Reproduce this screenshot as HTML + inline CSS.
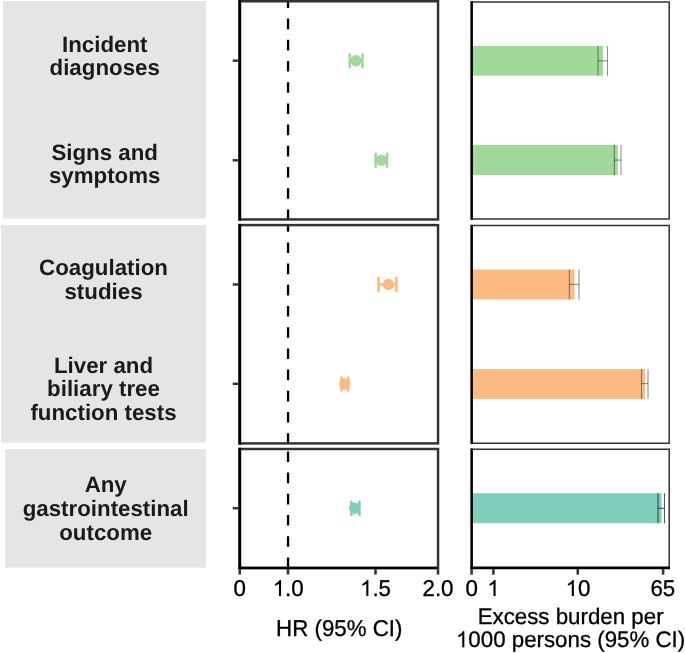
<!DOCTYPE html><html><head><meta charset="utf-8"><style>html,body{margin:0;padding:0;background:#fff;overflow:hidden;}svg{display:block;}text{font-family:"Liberation Sans",sans-serif;text-rendering:geometricPrecision;}</style></head><body>
<svg width="685" height="653" viewBox="0 0 685 653" style="will-change:transform">
<rect width="685" height="653" fill="#fff"/>
<rect x="3" y="1.1" width="203" height="217.4" fill="#E5E5E5"/>
<rect x="1" y="225" width="205" height="217.5" fill="#E5E5E5"/>
<rect x="5.2" y="449.2" width="200.8" height="118.4" fill="#E5E5E5"/>
<text transform="translate(104.7 51.65) scale(1 1.0)" font-size="22.3" font-weight="bold" text-anchor="middle" fill="#1A1A1A">Incident</text>
<text transform="translate(104.7 75.35) scale(1 1.0)" font-size="22.3" font-weight="bold" text-anchor="middle" fill="#1A1A1A">diagnoses</text>
<text transform="translate(104.7 159.65) scale(1 1.0)" font-size="22.3" font-weight="bold" text-anchor="middle" fill="#1A1A1A">Signs and</text>
<text transform="translate(104.7 183.35) scale(1 1.0)" font-size="22.3" font-weight="bold" text-anchor="middle" fill="#1A1A1A">symptoms</text>
<text transform="translate(103.5 275.45) scale(1 1.0)" font-size="22.3" font-weight="bold" text-anchor="middle" fill="#1A1A1A">Coagulation</text>
<text transform="translate(103.5 298.95) scale(1 1.0)" font-size="22.3" font-weight="bold" text-anchor="middle" fill="#1A1A1A">studies</text>
<text transform="translate(103.5 372.55) scale(1 1.0)" font-size="22.3" font-weight="bold" text-anchor="middle" fill="#1A1A1A">Liver and</text>
<text transform="translate(103.5 396.45) scale(1 1.0)" font-size="22.3" font-weight="bold" text-anchor="middle" fill="#1A1A1A">biliary tree</text>
<text transform="translate(103.5 420.35) scale(1 1.0)" font-size="22.3" font-weight="bold" text-anchor="middle" fill="#1A1A1A">function tests</text>
<text transform="translate(105.7 492.25) scale(1 1.0)" font-size="22.3" font-weight="bold" text-anchor="middle" fill="#1A1A1A">Any</text>
<text transform="translate(105.7 516.45) scale(1 1.0)" font-size="22.3" font-weight="bold" text-anchor="middle" fill="#1A1A1A">gastrointestinal</text>
<text transform="translate(105.7 540.05) scale(1 1.0)" font-size="22.3" font-weight="bold" text-anchor="middle" fill="#1A1A1A">outcome</text>
<line x1="288.05" y1="220" x2="288.05" y2="0" stroke="#000" stroke-width="2.3" stroke-dasharray="10.6 10.6"/>
<line x1="288.05" y1="443.8" x2="288.05" y2="225" stroke="#000" stroke-width="2.3" stroke-dasharray="10.6 10.6"/>
<line x1="288.05" y1="568" x2="288.05" y2="449" stroke="#000" stroke-width="2.3" stroke-dasharray="10.6 10.6"/>
<rect x="239.7" y="1.25" width="198.35000000000002" height="218.2" fill="none" stroke="#333" stroke-width="2.5"/>
<rect x="239.7" y="225.1" width="198.35000000000002" height="218.29999999999998" fill="none" stroke="#333" stroke-width="2.5"/>
<rect x="239.7" y="449.0" width="198.35000000000002" height="118.95000000000005" fill="none" stroke="#333" stroke-width="2.5"/>
<line x1="239.79999999999998" y1="0.0" x2="239.79999999999998" y2="220.7" stroke="#000" stroke-width="2.8"/>
<line x1="239.79999999999998" y1="223.85" x2="239.79999999999998" y2="444.65" stroke="#000" stroke-width="2.8"/>
<line x1="239.79999999999998" y1="447.75" x2="239.79999999999998" y2="569.2" stroke="#000" stroke-width="2.8"/>
<line x1="238.39999999999998" y1="567.95" x2="437.05" y2="567.95" stroke="#000" stroke-width="2.4"/>
<line x1="232.7" y1="60.7" x2="238.5" y2="60.7" stroke="#333" stroke-width="2.45"/>
<line x1="232.7" y1="160.3" x2="238.5" y2="160.3" stroke="#333" stroke-width="2.45"/>
<line x1="232.7" y1="284.5" x2="238.5" y2="284.5" stroke="#333" stroke-width="2.45"/>
<line x1="232.7" y1="383.8" x2="238.5" y2="383.8" stroke="#333" stroke-width="2.45"/>
<line x1="232.7" y1="508.2" x2="238.5" y2="508.2" stroke="#333" stroke-width="2.45"/>
<line x1="239.75" y1="569.1" x2="239.75" y2="574.6" stroke="#333" stroke-width="2.55"/>
<line x1="288.0" y1="569.1" x2="288.0" y2="574.6" stroke="#333" stroke-width="2.55"/>
<line x1="375.5" y1="569.1" x2="375.5" y2="574.6" stroke="#333" stroke-width="2.55"/>
<line x1="438.0" y1="569.1" x2="438.0" y2="574.6" stroke="#333" stroke-width="2.55"/>
<line x1="349.8" y1="60.8" x2="362.5" y2="60.8" stroke="#A1D99B" stroke-width="2.6"/>
<line x1="349.8" y1="53.3" x2="349.8" y2="68.3" stroke="#A1D99B" stroke-width="2.6"/>
<line x1="362.5" y1="53.3" x2="362.5" y2="68.3" stroke="#A1D99B" stroke-width="2.6"/>
<circle cx="356.0" cy="60.8" r="5.7" fill="#A1D99B"/>
<line x1="375.6" y1="160.2" x2="387.0" y2="160.2" stroke="#A1D99B" stroke-width="2.6"/>
<line x1="375.6" y1="152.7" x2="375.6" y2="167.7" stroke="#A1D99B" stroke-width="2.6"/>
<line x1="387.0" y1="152.7" x2="387.0" y2="167.7" stroke="#A1D99B" stroke-width="2.6"/>
<circle cx="381.3" cy="160.2" r="5.7" fill="#A1D99B"/>
<line x1="378.55" y1="284.5" x2="396.45" y2="284.5" stroke="#FDBB84" stroke-width="2.6"/>
<line x1="378.55" y1="277.0" x2="378.55" y2="292.0" stroke="#FDBB84" stroke-width="2.6"/>
<line x1="396.45" y1="277.0" x2="396.45" y2="292.0" stroke="#FDBB84" stroke-width="2.6"/>
<circle cx="388.5" cy="284.5" r="5.7" fill="#FDBB84"/>
<line x1="341.55" y1="384.0" x2="348.2" y2="384.0" stroke="#FDBB84" stroke-width="2.6"/>
<line x1="341.55" y1="376.5" x2="341.55" y2="391.5" stroke="#FDBB84" stroke-width="2.6"/>
<line x1="348.2" y1="376.5" x2="348.2" y2="391.5" stroke="#FDBB84" stroke-width="2.6"/>
<circle cx="344.7" cy="384.0" r="5.7" fill="#FDBB84"/>
<line x1="351.4" y1="508.3" x2="359.35" y2="508.3" stroke="#7FCDBB" stroke-width="2.6"/>
<line x1="351.4" y1="500.8" x2="351.4" y2="515.8" stroke="#7FCDBB" stroke-width="2.6"/>
<line x1="359.35" y1="500.8" x2="359.35" y2="515.8" stroke="#7FCDBB" stroke-width="2.6"/>
<circle cx="354.7" cy="508.3" r="5.7" fill="#7FCDBB"/>
<path d="M471.55 1.9H669.2V219.0H471.55" fill="none" stroke="#333" stroke-width="1.5"/>
<path d="M471.55 225.6H669.2V443.3H471.55" fill="none" stroke="#333" stroke-width="1.5"/>
<path d="M471.55 449.2H669.2V567.9H471.55" fill="none" stroke="#333" stroke-width="1.5"/>
<rect x="471.55" y="45.9" width="131.45" height="29.800000000000004" fill="#A1D99B"/>
<rect x="471.55" y="145" width="146.24999999999994" height="30" fill="#A1D99B"/>
<rect x="471.55" y="269.6" width="102.84999999999997" height="29.899999999999977" fill="#FDBB84"/>
<rect x="471.55" y="369" width="173.45" height="30" fill="#FDBB84"/>
<rect x="471.55" y="493.2" width="189.95" height="30.000000000000057" fill="#7FCDBB"/>
<line x1="598.0" y1="60.9" x2="607.5" y2="60.9" stroke="#000" stroke-opacity="0.43" stroke-width="1.1"/>
<line x1="598.0" y1="45.9" x2="598.0" y2="75.7" stroke="#000" stroke-opacity="0.43" stroke-width="1.1"/>
<line x1="607.5" y1="45.9" x2="607.5" y2="75.7" stroke="#000" stroke-opacity="0.43" stroke-width="1.1"/>
<line x1="614.3" y1="160.1" x2="621.0" y2="160.1" stroke="#000" stroke-opacity="0.43" stroke-width="1.1"/>
<line x1="614.3" y1="145" x2="614.3" y2="175" stroke="#000" stroke-opacity="0.43" stroke-width="1.1"/>
<line x1="621.0" y1="145" x2="621.0" y2="175" stroke="#000" stroke-opacity="0.43" stroke-width="1.1"/>
<line x1="569.35" y1="284.4" x2="579.0" y2="284.4" stroke="#000" stroke-opacity="0.43" stroke-width="1.1"/>
<line x1="569.35" y1="269.6" x2="569.35" y2="299.5" stroke="#000" stroke-opacity="0.43" stroke-width="1.1"/>
<line x1="579.0" y1="269.6" x2="579.0" y2="299.5" stroke="#000" stroke-opacity="0.43" stroke-width="1.1"/>
<line x1="641.5" y1="383.6" x2="648.0" y2="383.6" stroke="#000" stroke-opacity="0.43" stroke-width="1.1"/>
<line x1="641.5" y1="369" x2="641.5" y2="399" stroke="#000" stroke-opacity="0.43" stroke-width="1.1"/>
<line x1="648.0" y1="369" x2="648.0" y2="399" stroke="#000" stroke-opacity="0.43" stroke-width="1.1"/>
<line x1="658.0" y1="508.3" x2="664.5" y2="508.3" stroke="#000" stroke-opacity="0.65" stroke-width="1.1"/>
<line x1="658.0" y1="493.2" x2="658.0" y2="523.2" stroke="#000" stroke-opacity="0.65" stroke-width="1.1"/>
<line x1="664.5" y1="493.2" x2="664.5" y2="523.2" stroke="#000" stroke-opacity="0.65" stroke-width="1.1"/>
<line x1="471.65000000000003" y1="1.0999999999999999" x2="471.65000000000003" y2="219.8" stroke="#000" stroke-width="2.55"/>
<line x1="471.65000000000003" y1="224.79999999999998" x2="471.65000000000003" y2="444.1" stroke="#000" stroke-width="2.55"/>
<line x1="471.65000000000003" y1="448.4" x2="471.65000000000003" y2="568.6999999999999" stroke="#000" stroke-width="2.55"/>
<line x1="470.2" y1="567.9" x2="670.0" y2="567.9" stroke="#000" stroke-width="2.7"/>
<line x1="471.6" y1="569" x2="471.6" y2="574.7" stroke="#333" stroke-width="2.55"/>
<line x1="493.4" y1="569" x2="493.4" y2="574.7" stroke="#333" stroke-width="2.55"/>
<line x1="577.8" y1="569" x2="577.8" y2="574.7" stroke="#333" stroke-width="2.55"/>
<line x1="663.1" y1="569" x2="663.1" y2="574.7" stroke="#333" stroke-width="2.55"/>
<text transform="translate(239.6 596.0) scale(1 1.025)" x="0" y="0" font-size="22.3" text-anchor="middle" fill="#000" stroke="#000" stroke-width="0.3">0</text>
<path transform="translate(272.70 596.0) scale(0.01089 -0.01089)" d="M763 0H583V1147Q518 1085 412.5 1023T223 930V1104Q374 1175 487 1276T647 1472H763Z" fill="#000" stroke="#000" stroke-width="13.8"/>
<text transform="translate(285.10 596.0) scale(1 1.025)" font-size="22.3" fill="#000" stroke="#000" stroke-width="0.3">.</text>
<text transform="translate(291.30 596.0) scale(1 1.025)" font-size="22.3" fill="#000" stroke="#000" stroke-width="0.3">0</text>
<path transform="translate(360.00 596.0) scale(0.01089 -0.01089)" d="M763 0H583V1147Q518 1085 412.5 1023T223 930V1104Q374 1175 487 1276T647 1472H763Z" fill="#000" stroke="#000" stroke-width="13.8"/>
<text transform="translate(372.40 596.0) scale(1 1.025)" font-size="22.3" fill="#000" stroke="#000" stroke-width="0.3">.</text>
<text transform="translate(378.60 596.0) scale(1 1.025)" font-size="22.3" fill="#000" stroke="#000" stroke-width="0.3">5</text>
<text transform="translate(438.0 596.0) scale(1 1.025)" x="0" y="0" font-size="22.3" text-anchor="middle" fill="#000" stroke="#000" stroke-width="0.3">2.0</text>
<text transform="translate(471.6 596.0) scale(1 1.025)" x="0" y="0" font-size="22.3" text-anchor="middle" fill="#000" stroke="#000" stroke-width="0.3">0</text>
<path transform="translate(487.20 596.0) scale(0.01089 -0.01089)" d="M763 0H583V1147Q518 1085 412.5 1023T223 930V1104Q374 1175 487 1276T647 1472H763Z" fill="#000" stroke="#000" stroke-width="13.8"/>
<path transform="translate(565.50 596.0) scale(0.01089 -0.01089)" d="M763 0H583V1147Q518 1085 412.5 1023T223 930V1104Q374 1175 487 1276T647 1472H763Z" fill="#000" stroke="#000" stroke-width="13.8"/>
<text transform="translate(577.90 596.0) scale(1 1.025)" font-size="22.3" fill="#000" stroke="#000" stroke-width="0.3">0</text>
<text transform="translate(662.8 596.0) scale(1 1.025)" x="0" y="0" font-size="22.3" text-anchor="middle" fill="#000" stroke="#000" stroke-width="0.3">65</text>
<text transform="translate(339.3 636.2) scale(1 1.025)" x="0" y="0" font-size="22.3" text-anchor="middle" fill="#000" stroke="#000" stroke-width="0.3">HR (95% CI)</text>
<text transform="translate(570.6 623.7) scale(1 1.01)" x="0" y="0" font-size="22.3" text-anchor="middle" fill="#000" stroke="#000" stroke-width="0.3">Excess burden per</text>
<path transform="translate(455.94 647.3) scale(0.01089 -0.01089)" d="M763 0H583V1147Q518 1085 412.5 1023T223 930V1104Q374 1175 487 1276T647 1472H763Z" fill="#000" stroke="#000" stroke-width="13.8"/>
<text transform="translate(468.34 647.3) scale(1 1.01)" font-size="22.3" fill="#000" stroke="#000" stroke-width="0.3">000 persons (95% CI)</text>
</svg></body></html>
